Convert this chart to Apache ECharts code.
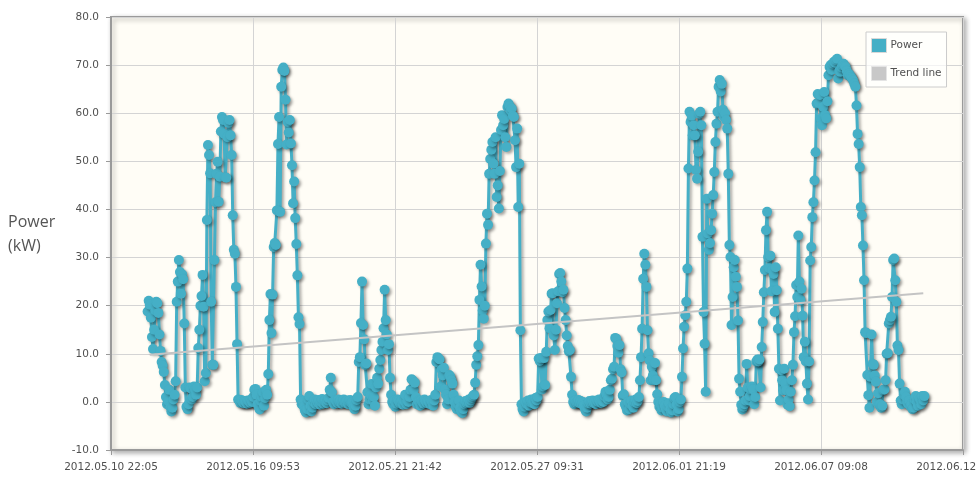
<!DOCTYPE html>
<html>
<head>
<meta charset="utf-8">
<script src="https://cdn.jsdelivr.net/npm/echarts@6/dist/echarts.min.js"></script>
<style>
html,body{margin:0;padding:0;background:#fff;}
#chart{width:976px;height:477px;}
</style>
</head>
<body>
<div id="chart"></div>
<script>
// Axis starts at 2012.05.10 22:05; x values are hours since then.
const axisStartUTC = Date.UTC(2012, 4, 10, 22, 5);
const tickIntervalHours = 131.8117;          // 5 d 11 h 48.7 min
const tickCount = 6;
// Hourly samples, first one at 2012.05.12 08:05 (34 h after axis start)
const firstSampleHour = 34;
const powerKW = [
  18.8, 21.0, 20.2, 17.5, 13.5, 11.0, 15.0, 19.0, 20.8, 20.5, 18.5, 14.0, 10.6, 8.3, 7.5, 6.2,
  3.5, 1.0, -0.5, 0.2, 2.5, -1.0, -2.0, -1.2, 0.5, 1.5, 4.3,
  20.8, 25.0, 29.5, 27.0, 22.5, 26.5, 25.5, 16.3, 3.0, -1.0, -1.5,
  -0.5, 3.0, 2.8, 0.5, 1.0, 3.2, 2.5, 1.5, 3.0,
  11.2, 15.0, 20.0, 22.0, 26.4, 19.8, 4.3, 6.0, 37.8, 53.4,
  51.3, 47.5, 20.8, 7.7, 7.7, 29.5, 41.5, 47.4, 49.9, 41.6,
  46.8, 56.2, 59.2, 58.6, 55.7, 46.7, 46.6, 55.0, 58.0, 58.6,
  55.4, 51.3, 38.8, 31.6, 30.8, 23.9, 12.0, 0.5,
  0.3, -0.2, 0.4, 0.0, -0.3, 0.2, 0.0, -0.4, 0.3, 0.1,
  -0.2, 0.5, 0.0, 1.0, 2.5, 2.7, 1.5, -0.5, -1.0, -1.6,
  0.2, 1.0, 2.0, -0.8, 0.8, 2.5, 1.5,
  5.8, 17.0, 22.4, 14.3, 22.3, 32.2, 33.0, 32.6, 39.8, 53.6,
  59.2, 39.5, 65.5, 69.0, 69.5, 68.8, 62.8, 53.5, 58.2, 56.0,
  58.6, 53.7, 49.2, 41.3, 45.8, 38.2, 32.8, 26.3, 17.6, 16.2,
  0.5,
  -0.5, 0.2, -1.0, -1.8, -2.2, -1.5, 0.5, 1.2, -0.8, -2.0,
  -1.2, 0.0, 0.5, -0.5, 0.3, -0.2, 0.4, -0.6, 0.0, 0.6,
  -0.4, 0.2, 0.4, -0.3, 0.3, 0.8, 2.5, 5.0, 2.0, 0.0,
  -0.5, 0.4, 0.2, -0.3, 0.5, 0.0, 0.3, -0.4, 0.2, 0.5,
  -0.2, 0.0, 0.3, -0.5, 0.1, 0.4, -0.2, 0.0, -1.0, -1.5,
  -0.8, 0.4, 1.0,
  8.3, 9.3, 16.4, 25.0, 16.0, 13.0, 7.7, 8.0, 2.0, -0.5, 0.5,
  1.5, 3.7, 0.3, 1.0, -0.8, 3.0, 5.0,
  3.8, 6.9, 8.7, 10.8, 12.5, 15.3, 23.3, 17.0, 14.0, 10.8, 12.0, 5.0, 1.5, 0.0,
  -0.5, 0.3, -1.0, -0.4, 0.5, 0.2, -0.3, 0.0, 0.4, -0.6,
  0.2, 1.5, -0.5, 0.3, 0.0, 1.0, 2.5, 4.7, 4.5, 2.5,
  4.0, 1.0, -0.5, 0.2, 0.0, -0.8, 0.3, 0.0, -0.4, 0.5,
  0.1, -0.3, 0.2, 0.0, -0.5, 0.4, 0.0, -0.8, 0.3,
  1.5, 8.3, 9.3, 9.0, 8.8, 3.2, 6.7, 5.5, 7.1, 2.6,
  1.5, -0.5, 0.5, 5.6, 5.2, 4.5, 3.8, 1.5, 0.0,
  -1.0, -1.5, -0.5, 0.3, -1.2, -2.0, -2.3, -1.5, -0.5, 0.2,
  -0.3, 0.0, 0.5, -0.2, 0.3, 0.8, 1.2,
  1.5, 4.0, 7.7, 9.5, 11.8, 21.2, 28.5, 24.0, 19.0, 17.3,
  20.0, 32.9, 39.1, 36.8, 47.4, 50.5, 52.4, 54.0, 49.5, 47.4,
  55.0, 42.6, 45.0, 40.2, 48.0, 56.5, 59.6, 57.5, 58.8, 55.0,
  53.0, 61.3, 62.0, 61.5, 60.5, 61.0, 59.5, 59.2, 54.4, 48.8,
  56.8, 40.5, 49.5, 14.9, -0.5,
  -1.5, -2.0, -1.0, 0.0, -0.5, 0.3, -0.8, 0.0, 0.5, -0.3, 0.2, -0.5, 0.8, 0.3,
  1.0, 9.0, 8.5, 9.1, 2.6, 3.2, 9.1, 3.5, 10.4, 17.0,
  18.8, 15.3, 19.1, 22.5, 22.6, 13.8, 10.8, 15.0, 20.5, 23.0,
  26.6, 26.8, 25.0, 22.8, 23.3, 19.5, 17.0, 13.8, 11.6, 10.5,
  10.8, 5.2, 1.5, 0.0,
  -0.5, 0.3, -0.2, 0.0, 0.4, -0.3, 0.2, -0.5, 0.0, -0.8,
  -1.5, -2.0, -1.2, -0.3, 0.2, -0.4, 0.0, 0.3, -0.2, 0.1,
  -0.5, 0.3, 0.0, 0.5, 0.0, -0.3, 0.2, 0.0, 1.2, 2.1,
  1.5, 0.5, 1.0, 2.5,
  4.5, 4.8, 6.8, 7.3, 13.3, 13.1, 11.6, 10.2, 11.8, 6.8, 6.1, 1.3, 1.6, -0.5,
  -1.0, -1.8, 0.0, -1.5, -0.4, 0.3, -0.8, -1.2, 0.0, 0.5, -0.3, 0.2, 1.0, 4.5,
  9.3, 15.2, 25.6, 30.8, 28.5, 23.9, 14.9, 10.1, 8.6, 4.5, 7.3, 5.5, 4.5, 8.1, 4.5, 1.6, 0.0,
  -1.0, -0.5, -1.8, -1.2, 0.0, -0.8, -1.5, -2.0, -1.0, -0.3,
  -1.5, -2.2, -1.8, -0.5, 0.8, 1.0, -0.5, -2.0, -1.5, 0.0,
  0.5,
  5.2, 11.1, 15.6, 18.0, 20.8, 27.7, 48.5, 60.3, 58.2, 59.5,
  55.4, 57.5, 55.4, 48.2, 46.4, 52.0, 59.9, 60.3, 57.5, 34.3,
  18.7, 12.1, 2.1, 42.2, 35.0, 31.6, 33.0, 35.7, 39.1, 43.0,
  47.8, 54.0, 57.8, 60.3, 65.5, 66.9,
  64.5, 66.1, 60.7, 59.3, 60.0, 58.6, 56.8, 47.4, 32.6, 30.1,
  16.0, 21.8, 28.0, 29.5, 26.0, 23.9, 16.9, 4.8, 2.1, -0.6,
  -1.6,
  -1.0, -0.5, 0.3, 7.9, 3.0, 0.3, 1.2, 2.6, 3.2, 2.6,
  -0.5, 1.0, 8.4, 8.8, 8.4, 8.8, 3.0, 11.4, 16.6, 22.8,
  27.4, 35.7, 39.5, 30.1, 27.8, 30.4, 23.0, 27.4, 26.6, 18.7,
  28.0, 23.2, 15.2, 6.9, 0.3, 6.6, 4.5, 2.4, 6.9, 3.8,
  2.4, -0.6, 0.5, -0.9,
  2.1, 4.5, 7.7, 14.5, 17.8, 24.3, 21.8, 34.6, 25.0, 21.2, 23.5, 17.9, 9.3, 12.5, 8.4, 3.8, 0.5, 8.4,
  29.4, 32.2, 38.4, 41.5, 46.0, 51.9, 62.0, 64.0, 62.1, 63.8,
  58.9, 57.5, 61.3, 64.4, 59.6, 58.9, 62.5, 67.9, 69.6, 70.0,
  69.0, 70.3, 70.7, 70.5, 71.0, 71.3, 67.2, 68.8, 68.6, 69.5,
  70.0, 70.3, 69.8, 69.6, 68.8, 67.9, 68.2, 67.9, 67.5, 67.2,
  66.8, 66.1, 65.5, 61.6, 55.7, 53.6, 48.8, 40.5, 38.8, 32.5,
  25.3, 14.5,
  14.3, 5.6, 1.4, -1.2, 5.2, 14.0, 7.9, 7.7, 5.5, 4.2,
  0.0, 1.8, -0.6, -0.5, -1.2, -0.8, 2.5, 2.6, 4.5, 10.0,
  10.1, 16.3, 17.0, 17.7, 21.8, 29.5, 29.8, 25.3, 20.8, 11.7,
  10.8, 3.8, 0.3, -0.5, 0.5, 1.5, 2.1, 1.0, 0.0, -0.5,
  0.3, -0.9, -0.5, -1.5, -1.2, 0.5, 1.2, 0.0, -0.8, 1.0,
  0.5, -0.5, 1.2, 0.3, 1.2
];
// Trend line end points: [hour since axis start, kW]
const trendLine = [[36, 9.8], [754, 22.6]];
const yMin = -10, yMax = 80, yStep = 10;
const seriesNames = ['Power', 'Trend line'];

const powerData = powerKW.map((v, i) => [firstSampleHour + i, v]);

function pad(n) { return String(n).padStart(2, '0'); }
function fmtHour(h) {
  const d = new Date(axisStartUTC + Math.round(h * 3600000));
  return d.getUTCFullYear() + '.' + pad(d.getUTCMonth() + 1) + '.' + pad(d.getUTCDate()) +
    ' ' + pad(d.getUTCHours()) + ':' + pad(d.getUTCMinutes());
}

const labelFont = { fontFamily: 'DejaVu Sans', fontSize: 10.5, color: '#505050' };
const shadow = { shadowColor: 'rgba(0,0,0,0.35)', shadowBlur: 3, shadowOffsetX: 2, shadowOffsetY: 2 };

const chart = echarts.init(document.getElementById('chart'), null, { renderer: 'canvas' });
chart.setOption({
  animation: false,
  backgroundColor: '#ffffff',
  grid: {
    show: true, left: 111, top: 17, right: 13, bottom: 27,
    outerBoundsMode: 'none', containLabel: false,
    backgroundColor: '#fffdf6', borderColor: '#9a9a9a', borderWidth: 2,
    shadowColor: 'rgba(0,0,0,0.3)', shadowBlur: 5, shadowOffsetX: 2, shadowOffsetY: 2
  },
  legend: {
    orient: 'vertical', left: 866, top: 32,
    padding: [6, 5, 6, 5], itemWidth: 15, itemHeight: 14, itemGap: 13,
    borderColor: '#cccccc', borderWidth: 1, backgroundColor: 'rgba(255,255,255,0.7)',
    textStyle: { fontFamily: 'DejaVu Sans', fontSize: 10.5, color: '#505050', padding: [0, 0, 0, -1] },
    data: [
      { name: seriesNames[0], icon: 'rect', itemStyle: { borderColor: '#d8d8d8', borderWidth: 1 } },
      { name: seriesNames[1], icon: 'rect', itemStyle: { borderColor: '#e4e4e4', borderWidth: 1 } }
    ]
  },
  graphic: [{
    type: 'text', left: 8, top: 210,
    style: { text: 'Power\n(kW)', font: '16px "Open Sans"', fill: '#555555', lineHeight: 24 }
  }],
  xAxis: {
    type: 'value', min: 0, max: tickCount * tickIntervalHours, interval: tickIntervalHours,
    axisLine: { show: true, onZero: false, lineStyle: { color: '#9a9a9a', width: 2 } },
    axisTick: { show: true, length: 5, lineStyle: { color: '#9a9a9a', width: 1 } },
    axisLabel: Object.assign({ margin: 12, showMinLabel: true, showMaxLabel: true, formatter: fmtHour }, labelFont),
    splitLine: { show: true, lineStyle: { color: '#d4d4d4', width: 1 } }
  },
  yAxis: {
    type: 'value', min: yMin, max: yMax, interval: yStep,
    axisLine: { show: true, lineStyle: { color: '#9a9a9a', width: 2 } },
    axisTick: { show: true, length: 5, lineStyle: { color: '#9a9a9a', width: 1 } },
    axisLabel: Object.assign({ margin: 12, formatter: v => v.toFixed(1) }, labelFont),
    splitLine: { show: true, lineStyle: { color: '#d4d4d4', width: 1 } }
  },
  series: [
    {
      name: seriesNames[0], type: 'line', data: powerData,
      symbol: 'circle', symbolSize: 10, showAllSymbol: true,
      color: '#45afc6',
      lineStyle: Object.assign({ width: 3, color: '#45afc6' }, shadow),
      itemStyle: Object.assign({ color: '#45afc6' }, shadow),
      z: 2
    },
    {
      name: seriesNames[1], type: 'line', data: trendLine,
      symbol: 'none', color: '#c8c8c8',
      lineStyle: { width: 2, color: '#c4c4c4' },
      z: 3
    }
  ]
});
</script>
</body>
</html>
